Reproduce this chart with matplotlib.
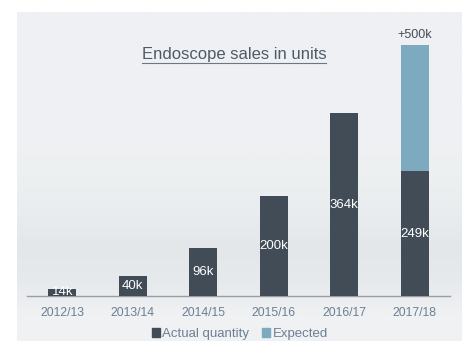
import numpy as np
import matplotlib.pyplot as plt
from matplotlib.colors import LinearSegmentedColormap
from matplotlib.patches import Patch

years = ['2012/13', '2013/14', '2014/15', '2015/16', '2016/17', '2017/18']
actual = [14, 40, 96, 200, 364, 249]
expected = [0, 0, 0, 0, 0, 251]
actual_labels = ['14k', '40k', '96k', '200k', '364k', '249k']
expected_label = '+500k'

dark = '#414c57'
blue = '#7eaac0'
txt = '#6e7f93'

plt.rcParams['font.family'] = ['Liberation Sans', 'DejaVu Sans']

fig = plt.figure(figsize=(4.62, 3.41), dpi=100)
fig.patch.set_facecolor('white')

# background panel with soft gradient
bg = fig.add_axes([17 / 462, 0, 1 - 17 / 462, 1 - 12 / 341])
cmap = LinearSegmentedColormap.from_list('bg', [
    (0.0, '#eff0f3'), (0.40, '#eff0f3'), (0.50, '#ecf0f1'),
    (0.60, '#e9edef'), (0.72, '#e3e7ea'), (0.82, '#e7eaed'),
    (0.92, '#eff1f3'), (1.0, '#f0f1f4')])
grad = np.linspace(0, 1, 256).reshape(-1, 1)
bg.imshow(grad, aspect='auto', cmap=cmap, extent=[0, 1, 1, 0])
bg.set_axis_off()

ax = fig.add_axes([27 / 462, 1 - 296 / 341, 423 / 462, 281 / 341])
ax.patch.set_alpha(0)
x = np.arange(len(years))
ax.bar(x, actual, width=0.4, color=dark, zorder=3)
ax.bar(x, expected, bottom=actual, width=0.4, color=blue, zorder=3)

for i, (v, lab) in enumerate(zip(actual, actual_labels)):
    ax.text(i, v / 2, lab, ha='center', va='center', color='white',
            fontsize=9.5, zorder=4)
ax.text(5, actual[5] + expected[5] + 8, expected_label, ha='center',
        va='bottom', color='#444c55', fontsize=9)

ax.set_xlim(-0.5, 5.5)
ax.set_ylim(0, 560)
ax.set_yticks([])
ax.set_xticks(x)
ax.set_xticklabels(years, color=txt, fontsize=8.8)
ax.tick_params(axis='x', length=0, pad=8)
for s in ['top', 'right', 'left']:
    ax.spines[s].set_visible(False)
ax.spines['bottom'].set_color('#9a9ea3')
ax.spines['bottom'].set_linewidth(1)

fig.text(234 / 462, 1 - 55 / 341, 'Endoscope sales in units', ha='center',
         va='center', fontsize=12, color='#4d5a68')
# underline
fig.add_artist(plt.Line2D([142 / 462, 326 / 462], [1 - 63 / 341, 1 - 63 / 341],
                          color='#6a7786', linewidth=0.8))

handles = [Patch(color=dark, label='Actual quantity'),
           Patch(color=blue, label='Expected')]
fig.legend(handles=handles, loc='center', bbox_to_anchor=(240 / 462, 1 - 334 / 341),
           ncol=2, frameon=False, fontsize=9.5, handlelength=0.6, handleheight=0.6,
           handletextpad=0.2, columnspacing=1.0, labelcolor=txt,
           borderpad=0.1)

fig.savefig('out.png', dpi=100)
